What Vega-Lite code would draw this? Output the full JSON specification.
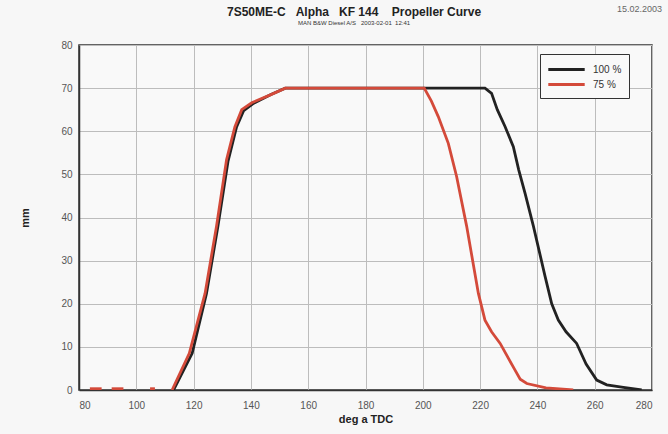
{
  "$schema": "https://vega.github.io/schema/vega-lite/v6.json",
  "width": 573,
  "height": 345,
  "autosize": {"type": "none"},
  "padding": {"left": 79, "top": 45, "right": 16, "bottom": 44},
  "background": "#f7f7f7",
  "config": {
    "view": {"stroke": "#333", "strokeWidth": 1.5, "fill": "#f9f9f9"},
    "axis": {
      "labelFont": "Liberation Sans",
      "labelFontSize": 10,
      "labelColor": "#555",
      "titleFont": "Liberation Sans",
      "titleColor": "#222",
      "gridColor": "#bdbdbd",
      "gridWidth": 1,
      "domainColor": "#333",
      "domainWidth": 1.5,
      "ticks": false
    }
  },
  "datasets": {
    "curves": [
      {"deg": 113, "mm": 0, "series": "100 %", "seg": "a"},
      {"deg": 119.5, "mm": 8.5, "series": "100 %", "seg": "a"},
      {"deg": 124.5, "mm": 22.4, "series": "100 %", "seg": "a"},
      {"deg": 128.5, "mm": 38, "series": "100 %", "seg": "a"},
      {"deg": 132, "mm": 53, "series": "100 %", "seg": "a"},
      {"deg": 135, "mm": 61, "series": "100 %", "seg": "a"},
      {"deg": 137.5, "mm": 64.8, "series": "100 %", "seg": "a"},
      {"deg": 141, "mm": 66.5, "series": "100 %", "seg": "a"},
      {"deg": 147, "mm": 68.5, "series": "100 %", "seg": "a"},
      {"deg": 152, "mm": 70, "series": "100 %", "seg": "a"},
      {"deg": 200, "mm": 70, "series": "100 %", "seg": "a"},
      {"deg": 221.7, "mm": 70, "series": "100 %", "seg": "a"},
      {"deg": 224, "mm": 68.8, "series": "100 %", "seg": "a"},
      {"deg": 226, "mm": 65, "series": "100 %", "seg": "a"},
      {"deg": 228.7, "mm": 61.1, "series": "100 %", "seg": "a"},
      {"deg": 231.6, "mm": 56.4, "series": "100 %", "seg": "a"},
      {"deg": 233.5, "mm": 51, "series": "100 %", "seg": "a"},
      {"deg": 235.7, "mm": 45.6, "series": "100 %", "seg": "a"},
      {"deg": 238.6, "mm": 38, "series": "100 %", "seg": "a"},
      {"deg": 242.7, "mm": 26.3, "series": "100 %", "seg": "a"},
      {"deg": 245, "mm": 20, "series": "100 %", "seg": "a"},
      {"deg": 247.3, "mm": 16.2, "series": "100 %", "seg": "a"},
      {"deg": 250, "mm": 13.5, "series": "100 %", "seg": "a"},
      {"deg": 253.7, "mm": 10.8, "series": "100 %", "seg": "a"},
      {"deg": 257, "mm": 6, "series": "100 %", "seg": "a"},
      {"deg": 260.7, "mm": 2.3, "series": "100 %", "seg": "a"},
      {"deg": 264.2, "mm": 1.2, "series": "100 %", "seg": "a"},
      {"deg": 270, "mm": 0.6, "series": "100 %", "seg": "a"},
      {"deg": 276.4, "mm": 0, "series": "100 %", "seg": "a"},
      {"deg": 83.8, "mm": 0.3, "series": "75 %", "seg": "n1"},
      {"deg": 87.9, "mm": 0.3, "series": "75 %", "seg": "n1"},
      {"deg": 91.4, "mm": 0.3, "series": "75 %", "seg": "n2"},
      {"deg": 95.5, "mm": 0.3, "series": "75 %", "seg": "n2"},
      {"deg": 104.8, "mm": 0.3, "series": "75 %", "seg": "n3"},
      {"deg": 106.5, "mm": 0.3, "series": "75 %", "seg": "n3"},
      {"deg": 112.5, "mm": 0, "series": "75 %", "seg": "b"},
      {"deg": 118.5, "mm": 8.5, "series": "75 %", "seg": "b"},
      {"deg": 124, "mm": 22.4, "series": "75 %", "seg": "b"},
      {"deg": 128, "mm": 38, "series": "75 %", "seg": "b"},
      {"deg": 131.5, "mm": 53.4, "series": "75 %", "seg": "b"},
      {"deg": 134.4, "mm": 61, "series": "75 %", "seg": "b"},
      {"deg": 136.8, "mm": 65, "series": "75 %", "seg": "b"},
      {"deg": 140.3, "mm": 66.6, "series": "75 %", "seg": "b"},
      {"deg": 147, "mm": 68.5, "series": "75 %", "seg": "b"},
      {"deg": 152, "mm": 70, "series": "75 %", "seg": "b"},
      {"deg": 200.5, "mm": 70, "series": "75 %", "seg": "b"},
      {"deg": 203, "mm": 67, "series": "75 %", "seg": "b"},
      {"deg": 205.4, "mm": 63.4, "series": "75 %", "seg": "b"},
      {"deg": 208.9, "mm": 57.2, "series": "75 %", "seg": "b"},
      {"deg": 211.8, "mm": 49.5, "series": "75 %", "seg": "b"},
      {"deg": 215.3, "mm": 38, "series": "75 %", "seg": "b"},
      {"deg": 219.4, "mm": 22.4, "series": "75 %", "seg": "b"},
      {"deg": 221.7, "mm": 16.2, "series": "75 %", "seg": "b"},
      {"deg": 224, "mm": 13.5, "series": "75 %", "seg": "b"},
      {"deg": 227, "mm": 10.8, "series": "75 %", "seg": "b"},
      {"deg": 232.2, "mm": 4.6, "series": "75 %", "seg": "b"},
      {"deg": 234, "mm": 2.5, "series": "75 %", "seg": "b"},
      {"deg": 236.3, "mm": 1.5, "series": "75 %", "seg": "b"},
      {"deg": 243, "mm": 0.5, "series": "75 %", "seg": "b"},
      {"deg": 252.5, "mm": 0, "series": "75 %", "seg": "b"}
    ],
    "labels": [
      {"deg": 176, "mm": 87.6, "label": "7S50ME-C\u00a0\u00a0\u00a0Alpha\u00a0\u00a0\u00a0KF 144\u00a0\u00a0\u00a0\u00a0Propeller Curve", "kind": "title"},
      {"deg": 176, "mm": 85.0, "label": "MAN B&W Diesel A/S\u00a0\u00a0\u00a02003-02-01\u00a0\u00a012:41", "kind": "subtitle"},
      {"deg": 267.8, "mm": 88.4, "label": "15.02.2003", "kind": "stamp"}
    ]
  },
  "layer": [
    {
      "data": {"name": "curves"},
      "mark": {"type": "line", "strokeWidth": 2.8, "clip": true},
      "encoding": {
        "x": {
          "field": "deg",
          "type": "quantitative",
          "scale": {"domain": [80, 280], "nice": false},
          "axis": {"values": [80, 100, 120, 140, 160, 180, 200, 220, 240, 260, 280], "title": "deg a TDC", "titleFontSize": 11, "titleFontWeight": "bold", "titlePadding": 3, "labelPadding": 10}
        },
        "y": {
          "field": "mm",
          "type": "quantitative",
          "scale": {"domain": [0, 80], "nice": false},
          "axis": {"values": [0, 10, 20, 30, 40, 50, 60, 70, 80], "title": "mm", "titleFontSize": 11, "titleFontWeight": "bold", "titlePadding": 30, "labelPadding": 7}
        },
        "color": {
          "field": "series",
          "type": "nominal",
          "scale": {"domain": ["100 %", "75 %"], "range": ["#222222", "#d44a3a"]},
          "legend": {
            "title": null,
            "orient": "none",
            "legendX": 461,
            "legendY": 9,
            "symbolType": "M-2.6,0H2.6",
            "symbolSize": 196,
            "symbolStrokeWidth": 3,
            "symbolOffset": 11,
            "labelOffset": 18,
            "labelFont": "Liberation Sans",
            "labelFontSize": 10,
            "labelColor": "#333",
            "strokeColor": "#333",
            "fillColor": "#f9f9f9",
            "padding": 7,
            "rowPadding": 0
          }
        },
        "detail": {"field": "seg"}
      }
    },
    {
      "data": {"name": "labels"},
      "transform": [{"filter": "datum.kind === 'title'"}],
      "mark": {"type": "text", "align": "center", "baseline": "middle", "fontSize": 12, "fontWeight": "bold", "font": "Liberation Sans", "color": "#222", "clip": false},
      "encoding": {
        "x": {"field": "deg", "type": "quantitative"},
        "y": {"field": "mm", "type": "quantitative"},
        "text": {"field": "label"}
      }
    },
    {
      "data": {"name": "labels"},
      "transform": [{"filter": "datum.kind === 'subtitle'"}],
      "mark": {"type": "text", "align": "center", "baseline": "middle", "fontSize": 6, "font": "Liberation Sans", "color": "#333", "clip": false},
      "encoding": {
        "x": {"field": "deg", "type": "quantitative"},
        "y": {"field": "mm", "type": "quantitative"},
        "text": {"field": "label"}
      }
    },
    {
      "data": {"name": "labels"},
      "transform": [{"filter": "datum.kind === 'stamp'"}],
      "mark": {"type": "text", "align": "left", "baseline": "middle", "fontSize": 9, "font": "Liberation Sans", "color": "#666", "clip": false},
      "encoding": {
        "x": {"field": "deg", "type": "quantitative"},
        "y": {"field": "mm", "type": "quantitative"},
        "text": {"field": "label"}
      }
    }
  ]
}
